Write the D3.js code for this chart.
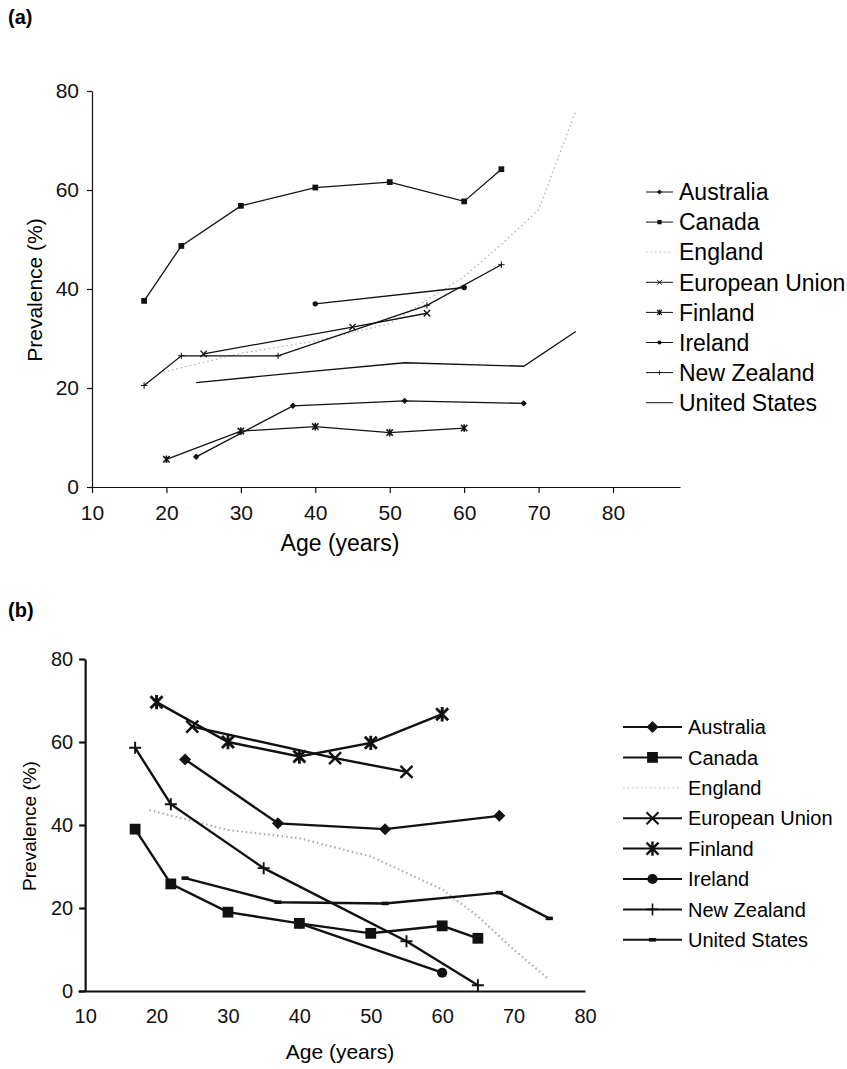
<!DOCTYPE html>
<html>
<head>
<meta charset="utf-8">
<script src="https://cdn.jsdelivr.net/npm/d3@7"></script>
<style>
  body { margin: 0; background: #fff; }
  svg { font-family: "Liberation Sans", Arial, sans-serif; }
  .axis text { font-size: 20px; fill: #111; }
  .axis path, .axis line { stroke: #111; }
</style>
</head>
<body>
<svg id="chart" width="847" height="1069"></svg>
<script>
// countries in legend order
var countries = ["Australia", "Canada", "England", "European Union",
                 "Finland", "Ireland", "New Zealand", "United States"];

// ages (years) of each country's data points, same in both panels
var ageAustralia = [24, 37, 52, 68];
var ageCanada = [17, 22, 30, 40, 50, 60, 65];
var ageEngland = [19, 30, 40, 50, 60, 65, 70, 75];
var ageEU = [25, 45, 55];
var ageFinland = [20, 30, 40, 50, 60];
var ageIreland = [40, 60];
var ageNZ = [17, 22, 35, 55, 65];
var ageUS = [24, 37, 52, 68, 75];

// panel (a) prevalence (%)
var aAustralia = [6.1, 16.4, 17.4, 16.9];
var aCanada = [37.6, 48.7, 56.8, 60.5, 61.6, 57.7, 64.2];
var aEngland = [23, 27, 29.5, 33, 42.5, 49, 56, 76];
var aEU = [26.9, 32.3, 35.1];
var aFinland = [5.6, 11.3, 12.2, 11.0, 11.9];
var aIreland = [37.0, 40.3];
var aNZ = [20.5, 26.5, 26.5, 36.7, 44.9];
var aUS = [21.1, 23.0, 25.1, 24.4, 31.4];

// panel (b) prevalence (%)
var bAustralia = [55.8, 40.4, 39.0, 42.2];
var bCanada = [39.0, 25.8, 19.0, 16.3, 13.9, 15.7, 12.7];
var bEngland = [43.6, 38.8, 36.8, 32.4, 24.5, 18.0, 10.0, 2.7];
var bEU = [63.7, 56.1, 52.8];
var bFinland = [69.6, 60.0, 56.5, 59.8, 66.7];
var bIreland = [16.3, 4.4];
var bNZ = [58.6, 45.0, 29.6, 12.0, 1.4];
var bUS = [27.2, 21.4, 21.1, 23.7, 17.5];

var yTicks = [0, 20, 40, 60, 80];
var xTicks = [10, 20, 30, 40, 50, 60, 70, 80];

var ages = [ageAustralia, ageCanada, ageEngland, ageEU, ageFinland, ageIreland, ageNZ, ageUS];
var shapes = ["diamond", "square", "none", "cross", "star", "circle", "plus", "dash"];

function makeSeries(vals) {
    return countries.map(function(c, i) {
        return { name: c, shape: shapes[i],
                 points: ages[i].map(function(a, j) { return [a, vals[i][j]]; }) };
    });
}

var seriesA = makeSeries([aAustralia, aCanada, aEngland, aEU, aFinland, aIreland, aNZ, aUS]);
var seriesB = makeSeries([bAustralia, bCanada, bEngland, bEU, bFinland, bIreland, bNZ, bUS]);

var svg = d3.select("#chart");

// draws one marker centred on 0,0
function drawMarker(g, shape, s, sw) {
    if (shape == "diamond") {
        g.append("path").attr("d", "M0," + (-s) + "L" + s + ",0L0," + s + "L" + (-s) + ",0Z").attr("fill", "#111");
    } else if (shape == "square") {
        g.append("rect").attr("x", -s * 0.9).attr("y", -s * 0.9).attr("width", s * 1.8).attr("height", s * 1.8).attr("fill", "#111");
    } else if (shape == "circle") {
        g.append("circle").attr("r", s * 0.85).attr("fill", "#111");
    } else if (shape == "cross") {
        g.append("path").attr("d", "M" + (-s) + "," + (-s) + "L" + s + "," + s + "M" + (-s) + "," + s + "L" + s + "," + (-s))
            .attr("stroke", "#111").attr("stroke-width", sw);
    } else if (shape == "star") {
        g.append("path").attr("d", "M" + (-s) + "," + (-s) + "L" + s + "," + s + "M" + (-s) + "," + s + "L" + s + "," + (-s) + "M0," + (-s * 1.2) + "L0," + (s * 1.2))
            .attr("stroke", "#111").attr("stroke-width", sw * 1.2);
    } else if (shape == "plus") {
        g.append("path").attr("d", "M" + (-s) + ",0L" + s + ",0M0," + (-s) + "L0," + s)
            .attr("stroke", "#111").attr("stroke-width", sw * 0.8);
    } else if (shape == "dash") {
        g.append("rect").attr("x", -s * 0.6).attr("y", -s * 0.3).attr("width", s * 1.2).attr("height", s * 0.6).attr("fill", "#111");
    }
}

function drawPanel(opt) {
    var x = d3.scaleLinear().domain(opt.xDomain).range(opt.xRange);
    var y = d3.scaleLinear().domain([0, 80]).range(opt.yRange);
    var g = svg.append("g");

    // panel letter
    svg.append("text").attr("x", 8).attr("y", opt.letterY)
        .style("font-size", "20px").style("font-weight", "bold").text(opt.letter);

    var yAxis = g.append("g").attr("class", "axis")
        .attr("transform", "translate(" + x(10) + ",0)")
        .call(d3.axisLeft(y).tickValues(yTicks).tickSize(opt.yTick).tickPadding(opt.yPad).tickSizeOuter(0));
    var xAxis = g.append("g").attr("class", "axis")
        .attr("transform", "translate(0," + y(0) + ")")
        .call(d3.axisBottom(x).tickValues(xTicks).tickSize(opt.xTick).tickPadding(opt.xPad).tickSizeOuter(0));
    yAxis.selectAll("path, line").attr("stroke-width", opt.axisWidth);
    xAxis.selectAll("path, line").attr("stroke-width", opt.axisWidth);
    yAxis.selectAll("text").style("font-size", opt.tickSize + "px");
    xAxis.selectAll("text").style("font-size", opt.tickSize + "px");

    g.append("text").attr("x", opt.xLabelX).attr("y", opt.xLabelY)
        .attr("text-anchor", "middle").style("font-size", opt.xLabelSize + "px").text("Age (years)");
    g.append("text").attr("transform", "translate(" + opt.yLabelX + "," + opt.yLabelY + ") rotate(-90)")
        .attr("text-anchor", "middle").style("font-size", opt.yLabelSize + "px").text("Prevalence (%)");

    var line = d3.line().x(function(d) { return x(d[0]); }).y(function(d) { return y(d[1]); });

    opt.series.forEach(function(s) {
        var eng = s.shape == "none";
        g.append("path").datum(s.points).attr("d", line).attr("fill", "none")
            .attr("stroke", eng ? "#aaa" : "#111")
            .attr("stroke-width", eng ? opt.lineWidth * 0.9 : opt.lineWidth)
            .attr("stroke-dasharray", eng ? "1.5,3" : null);
        if (!eng && !(opt.noUSMarker && s.shape == "dash")) {
            s.points.forEach(function(p) {
                var m = g.append("g").attr("transform", "translate(" + x(p[0]) + "," + y(p[1]) + ")");
                drawMarker(m, s.shape, opt.markerSize, opt.lineWidth);
            });
        }
    });

    // legend
    var lg = svg.append("g");
    countries.forEach(function(c, i) {
        var s = opt.series[i];
        var ry = opt.legendY + i * opt.legendStep;
        var eng = s.shape == "none";
        lg.append("line").attr("x1", opt.legendX[0]).attr("x2", opt.legendX[1])
            .attr("y1", ry).attr("y2", ry)
            .attr("stroke", eng ? "#bbb" : "#111")
            .attr("stroke-width", eng ? 1 : opt.legendLine)
            .attr("stroke-dasharray", eng ? "1.5,3" : null);
        if (!eng && !(opt.noUSMarker && s.shape == "dash")) {
            var m = lg.append("g").attr("transform", "translate(" + ((opt.legendX[0] + opt.legendX[1]) / 2) + "," + ry + ")");
            drawMarker(m, s.shape, opt.legendMarker, opt.legendLine);
        }
        lg.append("text").attr("x", opt.legendX[1] + 6).attr("y", ry).attr("dy", "0.36em")
            .style("font-size", opt.legendSize + "px").text(c);
    });
}

drawPanel({
    letter: "(a)", letterY: 24,
    series: seriesA,
    xDomain: [10, 89], xRange: [92, 680],
    yRange: [487, 91],
    yTick: 5, yPad: 8, xTick: 6, xPad: 12, tickSize: 21,
    axisWidth: 1.2,
    xLabelX: 340, xLabelY: 551, xLabelSize: 23,
    yLabelX: 42, yLabelY: 290, yLabelSize: 21,
    lineWidth: 1.3, markerSize: 3.2, noUSMarker: true,
    legendX: [646, 673], legendY: 192, legendStep: 30.1, legendLine: 1, legendMarker: 2.4, legendSize: 23
});

drawPanel({
    letter: "(b)", letterY: 617,
    series: seriesB,
    xDomain: [9, 80], xRange: [78, 585],
    yRange: [991, 659],
    yTick: 6, yPad: 6, xTick: 0, xPad: 18, tickSize: 20,
    axisWidth: 2.2,
    xLabelX: 340, xLabelY: 1059, xLabelSize: 21,
    yLabelX: 36, yLabelY: 826, yLabelSize: 19,
    lineWidth: 2.4, markerSize: 6, noUSMarker: false,
    legendX: [623, 682], legendY: 727, legendStep: 30.4, legendLine: 2, legendMarker: 6, legendSize: 20
});
</script>
</body>
</html>
